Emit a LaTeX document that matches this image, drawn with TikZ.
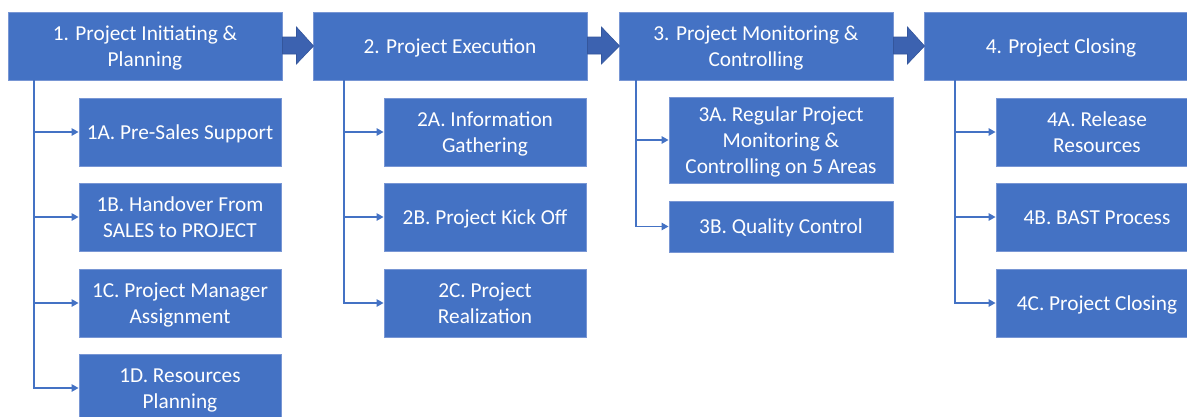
\documentclass[tikz,border=0pt]{standalone}
\usepackage{fontspec}
\setmainfont{Carlito}
\usetikzlibrary{arrows.meta,calc}
\definecolor{boxblue}{RGB}{68,114,196}
\definecolor{boxedge}{RGB}{120,150,212}
\definecolor{arrowblue}{RGB}{60,98,176}
\definecolor{arrowedge}{RGB}{52,86,156}
\tikzset{
  box/.style={rectangle, fill=boxblue, draw=boxedge, line width=0.9pt, text=white,
    align=center, inner sep=0pt, font=\fontsize{21.3}{26}\selectfont},
  topbox/.style={box, minimum width=274pt, minimum height=68pt},
  subbox/.style={box, minimum width=202pt, minimum height=68pt},
  conn/.style={draw=boxblue, line width=1.3pt, -{Triangle[length=7pt,width=7.5pt]}},
  bigarrow/.style={fill=arrowblue, draw=arrowedge, line width=0.6pt},
}
\newcommand{\bx}[1]{\raisebox{-2pt}[\height][\depth]{\begin{tabular}{@{}c@{}}#1\end{tabular}}}
\begin{document}
\begin{tikzpicture}[x=1pt,y=-1pt]
\useasboundingbox (0,0) rectangle (1187,416);
% top boxes
\node[topbox] (T1) at (145,46) {\bx{1. Project Initiating \&\\Planning}};
\node[topbox] (T2) at (450,46) {\bx{2. Project Execution}};
\node[topbox] (T3) at (756,46) {\bx{3. Project Monitoring \&\\Controlling}};
\node[topbox] (T4) at (1061,46) {\bx{4. Project Closing}};
% block arrows
\foreach \a/\b in {T1/T2, T2/T3, T3/T4}{
  \draw[bigarrow] ($(\a.east)+(0,-9)$) -- ($(\a.east)+(14,-9)$) -- ($(\a.east)+(14,-19)$)
    -- ($(\b.west)+(1,0)$) -- ($(\a.east)+(14,18)$) -- ($(\a.east)+(14,8)$) -- ($(\a.east)+(0,8)$) -- cycle;
}
% column 1
\node[subbox] (S1A) at (180,132) {\bx{1A. Pre-Sales Support}};
\node[subbox] (S1B) at (180,217) {\bx{1B. Handover From\\SALES to PROJECT}};
\node[subbox] (S1C) at (180,303) {\bx{1C. Project Manager\\Assignment}};
\node[subbox] (S1D) at (180,388) {\bx{1D. Resources\\Planning}};
% column 2
\node[subbox] (S2A) at (485,132) {\bx{2A. Information\\Gathering}};
\node[subbox] (S2B) at (485,217) {\bx{2B. Project Kick Off}};
\node[subbox] (S2C) at (485,303) {\bx{2C. Project\\Realization}};
% column 3
\node[box, minimum width=224pt, minimum height=86pt] (S3A) at (781,140) {\bx{3A. Regular Project\\Monitoring \&\\Controlling on 5 Areas}};
\node[box, minimum width=224pt, minimum height=51pt] (S3B) at (781,226.5) {\bx{3B. Quality Control}};
% column 4
\node[subbox] (S4A) at (1097,132) {\bx{4A. Release\\Resources}};
\node[subbox] (S4B) at (1097,217) {\bx{4B. BAST Process}};
\node[subbox] (S4C) at (1097,303) {\bx{4C. Project Closing}};
% connector origins
\coordinate (c1) at (34,80);
\coordinate (c2) at (344,80);
\coordinate (c3) at (636,80);
\coordinate (c4) at (955,80);
\foreach \s in {S1A,S1B,S1C,S1D} \draw[conn] (c1) |- (\s);
\foreach \s in {S2A,S2B,S2C} \draw[conn] (c2) |- (\s);
\foreach \s in {S3A,S3B} \draw[conn] (c3) |- (\s);
\foreach \s in {S4A,S4B,S4C} \draw[conn] (c4) |- (\s);
\end{tikzpicture}
\end{document}
